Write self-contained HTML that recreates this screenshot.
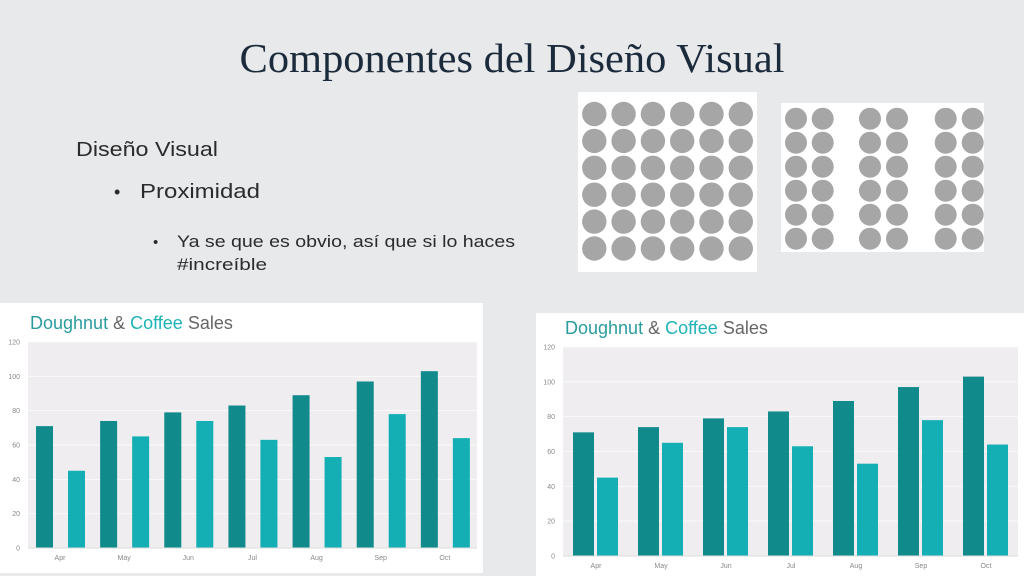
<!DOCTYPE html>
<html><head><meta charset="utf-8"><style>
html,body{margin:0;padding:0;background:#e8e9eb;}
svg{display:block;}
</style></head><body>
<svg id="slide" width="1024" height="576" viewBox="0 0 1024 576" xmlns="http://www.w3.org/2000/svg">
<rect width="1024" height="576" fill="#e8e9eb"/>
<text x="512" y="72" text-anchor="middle" font-family="Liberation Serif, serif" font-size="41" fill="#1c2b3b" textLength="545" lengthAdjust="spacingAndGlyphs">Componentes del Diseño Visual</text>
<g font-family="Liberation Sans, sans-serif" fill="#2b2b2b">
<text x="76" y="156" font-size="20" textLength="142" lengthAdjust="spacingAndGlyphs">Diseño Visual</text>
<text x="114" y="198" font-size="18">•</text>
<text x="140" y="198" font-size="20" textLength="120" lengthAdjust="spacingAndGlyphs">Proximidad</text>
<text x="153" y="247" font-size="15">•</text>
<text x="177" y="247" font-size="17" textLength="338" lengthAdjust="spacingAndGlyphs">Ya se que es obvio, así que si lo haces</text>
<text x="177" y="270" font-size="17" textLength="90" lengthAdjust="spacingAndGlyphs">#increíble</text>
</g>
<rect x="578" y="92" width="179" height="180" fill="#fff"/>
<rect x="781" y="103" width="203" height="149" fill="#fff"/>
<g id="dots"></g>
<g id="chartL"></g>
<g id="chartR"></g>
</svg>
<script>
const months = ["Apr","May","Jun","Jul","Aug","Sep","Oct"];
const doughnut = [71,74,79,83,89,97,103];
const coffee = [45,65,74,63,53,78,64];
const yTicks = [0,20,40,60,80,100,120];
const NS="http://www.w3.org/2000/svg";
function mk(parent,tag,attrs,text){const e=document.createElementNS(NS,tag);for(const k in attrs)e.setAttribute(k,attrs[k]);if(text!==undefined)e.textContent=text;parent.appendChild(e);return e;}

// dots
const dg=document.getElementById('dots');
for(let r=0;r<6;r++)for(let c=0;c<6;c++){
  const d=mk(dg,'circle',{cx:594.3+c*29.3,cy:114+r*26.9,r:12.2,fill:'#a6a6a6'});
  
  
}
const gx=[796,822.7,870,897,945.7,972.7];
for(let r=0;r<6;r++)for(let c=0;c<6;c++){
  const d=mk(dg,'circle',{cx:gx[c],cy:118.7+r*24,r:11,fill:'#a6a6a6'});
  
  
}

function drawChart(g,cfg){
  mk(g,'rect',{x:cfg.px,y:cfg.py,width:cfg.pw,height:cfg.ph,fill:'#fff'});
  const t=mk(g,'text',{x:cfg.tx,y:cfg.ty,'font-family':'Liberation Sans, sans-serif','font-size':18});
  
  
  mk(t,'tspan',{fill:'#2a9c9e'},'Doughnut');
  mk(t,'tspan',{fill:'#666'},' & ');
  mk(t,'tspan',{fill:'#1fb3b7'},'Coffee');
  mk(t,'tspan',{fill:'#666'},' Sales');
  const x0=cfg.l,x1=cfg.r,yTop=cfg.t,yBot=cfg.b;
  const ymax=yTicks[yTicks.length-1];
  const y=v=>yBot-(v/ymax)*(yBot-yTop);
  const step=(x1-x0)/months.length;
  const pa=mk(g,'rect',{x:x0,y:yTop,width:x1-x0,height:yBot-yTop,fill:'#efedf0'});
  
  
  yTicks.forEach(v=>{
    const ln=mk(g,'line',{x1:x0,x2:x1,y1:y(v),y2:y(v),stroke:'#fafafa','stroke-width':1});
    
    
    const tl=mk(g,'text',{x:x0-8,y:y(v)+2.5,'text-anchor':'end','font-family':'Liberation Sans, sans-serif','font-size':7,fill:'#888'},String(v));
    
    
  });
  months.forEach((m,i)=>{
    const gx0=x0+i*step;
    const b1=mk(g,'rect',{x:gx0+cfg.o1,y:y(doughnut[i]),width:cfg.w,height:yBot-y(doughnut[i]),fill:'#118a8b'});
    
    
    const b2=mk(g,'rect',{x:gx0+cfg.o2,y:y(coffee[i]),width:cfg.w,height:yBot-y(coffee[i]),fill:'#14afb4'});
    
    
    const xl=mk(g,'text',{x:gx0+cfg.lx,y:yBot+12,'text-anchor':'middle','font-family':'Liberation Sans, sans-serif','font-size':7,fill:'#888'},m);
    
    
  });
  mk(g,'line',{x1:x0,x2:x1,y1:yBot,y2:yBot,stroke:'#ddd','stroke-width':1});
}
drawChart(document.getElementById('chartL'),{px:0,py:303,pw:483,ph:270,tx:30,ty:329,l:28,r:477,t:342,b:548,o1:8,o2:40,w:17,lx:32});
drawChart(document.getElementById('chartR'),{px:536,py:313,pw:488,ph:263,tx:565,ty:334,l:563,r:1018,t:347,b:556,o1:10,o2:34,w:21,lx:33});
</script>
</body></html>
